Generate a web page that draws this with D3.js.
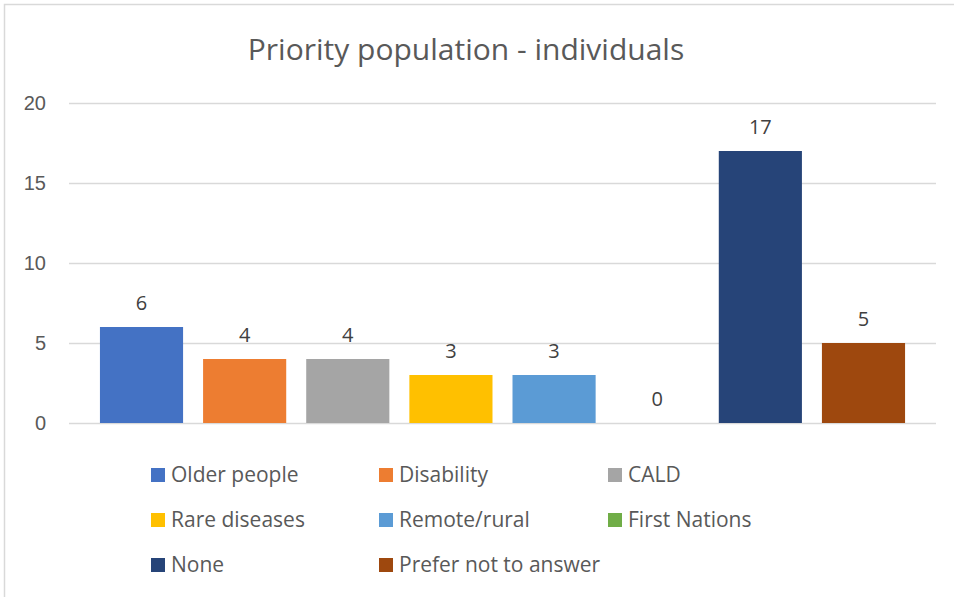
<!DOCTYPE html>
<html lang="en">
<head>
  <meta charset="UTF-8" />
  <title>Priority population - individuals</title>
  <style>
    body { margin: 0; background: #fff; }
    svg { display: block; font-family: "Open Sans", sans-serif; }
    .tick text { fill: #595959; font-size: 20px; }
  </style>
</head>
<body>
  <div id="chart"></div>

  <script src="https://d3js.org/d3.v7.min.js"></script>
  <script>
    const categories = ['Older people', 'Disability', 'CALD', 'Rare diseases',
                        'Remote/rural', 'First Nations', 'None', 'Prefer not to answer'];
    const values = [6, 4, 4, 3, 3, 0, 17, 5];
    const colors = ['#4472C4', '#ED7D31', '#A5A5A5', '#FFC000',
                    '#5B9BD5', '#70AD47', '#264478', '#9E480E'];
    const yTicks = [0, 5, 10, 15, 20];

    const width = 954;
    const height = 597;
    const plot = { left: 69, right: 936, top: 103, bottom: 423 };

    const svg = d3.select('#chart')
      .append('svg')
      .attr('width', width)
      .attr('height', height);

    // chart border (only left and top edges are in view)
    svg.append('rect')
      .attr('x', 4.5).attr('y', 4.5)
      .attr('width', width + 10).attr('height', height + 10)
      .attr('fill', 'none')
      .attr('stroke', '#d9d9d9')
      .attr('stroke-width', 1.5);

    svg.append('text')
      .attr('x', 466)
      .attr('y', 60)
      .attr('text-anchor', 'middle')
      .attr('fill', '#595959')
      .style('font-size', '30px')
      .text('Priority population - individuals');

    const x = d3.scaleBand()
      .domain(categories)
      .range([plot.left, plot.right])
      .paddingInner(0.194)
      .paddingOuter(0.3);

    const y = d3.scaleLinear()
      .domain([0, 20])
      .range([plot.bottom, plot.top]);

    // gridlines + y labels
    const yAxis = svg.append('g')
      .attr('transform', `translate(${plot.left},0)`)
      .call(d3.axisLeft(y)
        .tickValues(yTicks)
        .tickSize(-(plot.right - plot.left))
        .tickPadding(23));
    yAxis.select('.domain').remove();
    yAxis.selectAll('.tick line')
      .attr('stroke', '#d9d9d9')
      .attr('stroke-width', 1.5);

    // bars
    svg.append('g')
      .selectAll('rect')
      .data(values)
      .join('rect')
        .attr('x', (d, i) => x(categories[i]))
        .attr('y', d => y(d))
        .attr('width', x.bandwidth())
        .attr('height', d => y(0) - y(d))
        .attr('fill', (d, i) => colors[i]);

    // data labels
    svg.append('g')
      .selectAll('text')
      .data(values)
      .join('text')
        .attr('x', (d, i) => x(categories[i]) + x.bandwidth() / 2)
        .attr('y', d => y(d) - 17)
        .attr('text-anchor', 'middle')
        .attr('fill', '#404040')
        .style('font-size', '20px')
        .text(d => d);

    // legend, 3 columns
    const legendX = [151, 379, 608];
    const legendY = [475, 520, 565];
    const legend = svg.append('g')
      .selectAll('g')
      .data(categories)
      .join('g')
        .attr('transform', (d, i) => `translate(${legendX[i % 3]},${legendY[Math.floor(i / 3)]})`);
    legend.append('rect')
      .attr('x', 0).attr('y', -7)
      .attr('width', 14).attr('height', 14)
      .attr('fill', (d, i) => colors[i]);
    legend.append('text')
      .attr('x', 20)
      .attr('dy', '0.35em')
      .attr('fill', '#595959')
      .style('font-size', '21px')
      .text(d => d);
  </script>
</body>
</html>
